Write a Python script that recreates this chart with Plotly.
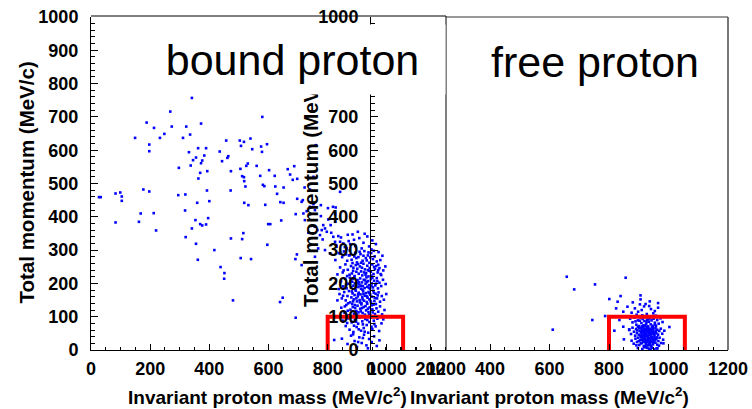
import plotly.graph_objects as go

# ---------------- data ----------------
# bound proton: sparse points (invariant mass MeV/c^2, total momentum MeV/c)
bound_sparse = [
    (341,757),(268,716),(579,700),(188,683),(372,680),(213,667),(273,671),(322,671),(248,649),(335,647),
    (149,637),(233,637),(311,637),(457,629),(503,629),(517,625),(539,635),(197,617),(595,618),(507,613),
    (575,611),(545,603),(197,597),(331,594),(362,606),(389,606),(435,596),(578,595),(383,584),(355,578),
    (464,582),(461,577),(345,570),(376,569),(443,567),(372,561),(530,560),(525,553),(560,553),(337,554),
    (297,547),(505,544),(473,537),(393,537),(369,532),(602,540),(665,543),(687,552),(673,527),(621,523),
    (572,523),(511,522),(517,519),(363,515),(697,514),(682,511),(518,507),(581,496),(586,492),(522,491),
    (623,491),(651,488),(177,482),(197,476),(392,479),(472,479),(83,470),(99,473),(629,469),(295,465),
    (319,467),(27,459),(33,459),(104,461),(697,454),(104,448),(400,447),(359,442),(640,444),(651,442),
    (518,442),(532,435),(589,436),(318,419),(168,410),(212,411),(692,408),(396,396),(83,383),(162,385),
    (353,390),(643,389),(369,378),(376,374),(389,377),(341,365),(599,378),(606,378),(220,359),(515,351),
    (320,339),(473,335),(511,333),(355,319),(596,316),(417,300),(696,287),(506,276),(541,273),(691,273),
    (361,271),(438,249),(451,231),(450,214),(480,149),(648,157),(639,144),(692,97),
    (760,615),(752,520),(722,488),(740,482),(716,450),(729,417),(752,438),(777,435),(723,390),(842,475),
    (827,428),(777,402),(802,392),(712,445),(740,430),(757,420),(718,410),(785,375),(791,365),(780,360),
    (797,355),(774,345),(783,332),(819,340),(836,342),(825,325),(842,325),(830,310),(853,320),(864,305),
    (768,305),(791,300),(808,290),(842,290),(853,285),(875,285),(765,360),(810,375),(825,385),(801,426),
    (818,430),(825,408),(757,370),(971,240),(979,228),(712,255),(757,280),(735,352),(822,30),
]
# bound proton: dense cluster
bound_cluster = [
    (812,352),(845,338),(868,346),(889,331),(902,355),(921,322),(934,341),(951,329),(876,318),(858,309),
    (893,312),(915,305),(940,311),(963,318),(829,315),(884,347),(907,336),(948,302),(871,327),(925,349),
    (855,296),(872,284),(881,271),(893,292),(899,263),(904,279),(911,288),(918,268),(924,297),(929,276),
    (936,284),(941,262),(947,291),(953,273),(959,281),(966,266),(972,294),(884,261),(866,268),(849,279),
    (838,291),(826,270),(897,276),(913,262),(921,283),(932,269),(944,278),(956,298),(978,270),(985,283),
    (908,295),(890,281),(875,299),(862,287),(938,293),
    (842,248),(851,233),(860,257),(868,241),(874,226),(879,252),(886,238),(891,222),(895,255),(900,244),
    (905,229),(909,251),(913,236),(917,224),(921,259),(926,242),(930,231),(934,253),(938,221),(942,246),
    (946,235),(951,257),(955,228),(960,243),(964,252),(969,233),(975,246),(981,225),(988,239),(995,251),
    (882,230),(897,235),(903,258),(916,247),(928,226),(940,238),(948,223),(957,249),(971,256),(866,222),
    (854,239),(833,227),(887,247),(923,233),(936,240),
    (845,206),(853,191),(859,214),(864,185),(870,199),(875,217),(879,188),(883,205),(887,193),(890,219),
    (894,182),(898,201),(901,210),(904,189),(907,197),(910,215),(913,184),(916,203),(919,192),(922,211),
    (925,186),(928,199),(931,218),(934,190),(937,207),(940,195),(943,183),(946,213),(949,200),(953,188),
    (957,208),(961,194),(966,216),(970,185),(975,202),(981,192),(987,211),(996,198),(838,183),(826,201),
    (862,196),(885,214),(896,190),(906,204),(918,181),(927,209),(939,187),(951,217),(963,199),(878,208),
    (892,200),(912,193),(932,204),(948,192),(968,207),
    (840,168),(848,155),(856,174),(861,149),(867,162),(872,177),(876,143),(880,158),(884,170),(888,152),
    (891,165),(895,178),(899,146),(902,161),(905,172),(908,150),(911,167),(914,141),(917,159),(920,176),
    (923,148),(926,163),(929,171),(932,144),(935,157),(938,174),(941,152),(944,166),(947,142),(950,160),
    (954,178),(958,147),(962,169),(967,155),(972,173),(977,145),(983,162),(990,151),(998,168),(833,149),
    (852,163),(869,140),(882,176),(897,155),(909,143),(921,168),(933,161),(945,147),(956,172),(969,164),
    (886,146),(903,168),(918,152),(940,171),(959,156),
    (846,127),(857,112),(863,135),(871,104),(877,121),(883,138),(889,109),(893,126),(897,117),(901,133),
    (906,102),(910,124),(914,137),(918,111),(922,129),(926,106),(930,119),(934,139),(938,114),(942,128),
    (946,103),(951,122),(955,136),(960,108),(965,125),(971,115),(977,131),(984,107),(992,120),(868,118),
    (880,101),(892,135),(904,113),(916,126),(928,132),(940,107),(952,113),(963,138),(885,129),(899,105),
    (912,116),(936,124),(948,134),(858,131),(924,101),
    (852,88),(861,72),(869,95),(874,61),(881,83),(887,54),(892,91),(898,69),(903,79),(908,97),
    (913,58),(917,86),(922,66),(927,93),(932,75),(937,52),(941,84),(946,97),(951,63),(956,88),
    (962,71),(968,94),(974,57),(982,80),(889,73),(905,62),(919,77),(934,90),(948,70),(878,99),
    (896,85),(925,55),(958,78),(866,81),(988,92),
    (848,34),(867,18),(879,43),(891,27),(899,9),(907,38),(915,21),(923,46),(931,14),(940,33),
    (949,24),(957,41),(966,12),(975,29),(886,47),(903,24),(936,5),(919,36),
]
# free proton
free_sparse = [
    (611,61),(658,220),(683,182),(753,197),(856,217),(744,90),(818,58),(1003,69),(835,90),(848,70),
    (868,60),(850,32),(983,20),(960,5),(801,153),(829,145),(839,162),(787,102),(824,125),(848,115),
    (862,130),(880,143),(906,164),(906,152),(923,138),(935,132),(965,141),(965,127),(887,125),(898,115),
    (910,120),(949,110),(912,104),(927,108),(941,123),(954,117),(918,131),(893,106),(876,112),(958,103),
    (937,146),(904,137),
]
free_cluster = [
    (871,94),(879,83),(885,97),(892,76),(897,89),(901,72),(905,98),(909,81),(913,93),(916,74),
    (919,87),(922,99),(925,78),(928,91),(931,71),(934,85),(937,96),(940,77),(943,89),(947,73),
    (950,94),(954,82),(958,71),(962,90),(967,79),(973,95),(980,84),(889,86),(903,88),(921,73),
    (933,93),(945,99),(956,75),(911,71),(926,84),
    (868,62),(874,48),(879,67),(884,55),(888,43),(891,63),(894,51),(897,69),(900,46),(903,58),
    (906,41),(908,66),(910,53),(912,61),(914,44),(916,69),(918,50),(920,57),(922,42),(924,64),
    (926,48),(928,60),(930,54),(932,67),(934,45),(936,58),(938,63),(940,41),(942,52),(944,68),
    (946,47),(948,59),(951,55),(953,43),(956,65),(959,50),(962,61),(965,46),(969,57),(974,64),
    (979,49),(986,58),(895,59),(902,66),(909,47),(917,62),(923,55),(929,43),(935,51),(941,60),
    (947,66),(952,48),(958,57),(913,56),(921,49),(927,69),(933,59),(939,47),(945,53),(907,54),
    (876,28),(883,19),(889,34),(894,24),(898,37),(902,15),(905,29),(908,38),(911,21),(914,33),
    (917,12),(919,26),(921,37),(924,18),(926,31),(928,23),(930,39),(932,14),(934,27),(936,35),
    (938,20),(940,31),(942,11),(944,25),(946,38),(948,17),(951,29),(953,36),(956,22),(959,33),
    (962,16),(966,27),(970,37),(975,21),(982,31),(892,14),(900,27),(907,20),(913,39),(920,30),
    (925,11),(931,34),(937,25),(943,37),(949,23),(955,30),(961,38),(968,13),(915,25),(929,29),
    (939,15),(947,32),(910,31),(935,19),(922,24),
    (897,6),(912,3),(923,8),(935,4),(944,7),(952,2),(963,5),(918,9),(940,1),(929,6),
]
# selection cut box (mass window, momentum limit)
cut_mass = [800, 800, 1055, 1055]
cut_mom = [0, 100, 100, 0]

x_ticks = [0, 200, 400, 600, 800, 1000, 1200]
y_ticks = [0, 100, 200, 300, 400, 500, 600, 700, 800, 900, 1000]
panel_titles = ["bound proton", "free proton"]
x_title = "Invariant proton mass (MeV/c<sup>2</sup>)"
y_title = "Total momentum (MeV/c)"

# ---------------- figure ----------------
W, H = 752, 409
def px(x): return x / W
def py(y): return 1 - y / H

bound = bound_sparse + bound_cluster
free = free_sparse + free_cluster

fig = go.Figure()
mk = dict(symbol="square", size=2.6, color="#0000ff", line=dict(width=0))
fig.add_trace(go.Scatter(x=[p[0] for p in bound], y=[p[1] for p in bound], mode="markers",
                         marker=mk, xaxis="x", yaxis="y", showlegend=False))
fig.add_trace(go.Scatter(x=cut_mass, y=cut_mom, mode="lines", line=dict(color="#ff0000", width=4),
                         xaxis="x", yaxis="y", showlegend=False))
fig.add_trace(go.Scatter(x=[p[0] for p in free], y=[p[1] for p in free], mode="markers",
                         marker=mk, xaxis="x2", yaxis="y2", showlegend=False))
fig.add_trace(go.Scatter(x=cut_mass, y=cut_mom, mode="lines", line=dict(color="#ff0000", width=4),
                         xaxis="x2", yaxis="y2", showlegend=False))

tickfont = dict(family="Liberation Sans, Arial, sans-serif", size=18, color="black", weight="bold")
xax = dict(range=[0, 1200], tickvals=x_ticks, ticks="inside", ticklen=6, tickwidth=1, tickcolor="black",
           minor=dict(dtick=50, tick0=0, ticks="inside", ticklen=3, tickcolor="black"),
           showline=True, linecolor="black", linewidth=1, showgrid=False, zeroline=False,
           tickfont=tickfont, ticklabelstandoff=2, fixedrange=True, automargin=False)
yax = dict(range=[0, 1000], tickvals=y_ticks, ticks="inside", ticklen=7, tickwidth=1, tickcolor="black",
           minor=dict(dtick=20, tick0=0, ticks="inside", ticklen=4, tickcolor="black"),
           showline=True, linecolor="black", linewidth=1, showgrid=False, zeroline=False,
           tickfont=tickfont, ticklabelstandoff=8, fixedrange=True, automargin=False)

ydom = [py(350), py(17)]
fig.update_layout(
    width=W, height=H, margin=dict(l=0, r=0, t=0, b=0, pad=0), autosize=False,
    paper_bgcolor="white", plot_bgcolor="rgba(0,0,0,0)",
    xaxis=dict(domain=[px(91), px(446)], anchor="y", **xax),
    yaxis=dict(domain=ydom, anchor="x", **yax),
    xaxis2=dict(domain=[px(371), px(728)], anchor="y2", **xax),
    yaxis2=dict(domain=ydom, anchor="x2", **yax),
)

# frames
for (x0, y0, x1, y1, c, w) in [(91, 16, 446, 16, "black", 1), (446, 16, 446, 350, "black", 1),
                              (446, 17, 728, 17, "#333333", 1), (728, 17, 728, 350, "#555555", 1.6)]:
    fig.add_shape(type="line", xref="paper", yref="paper", x0=px(x0), y0=py(y0), x1=px(x1), y1=py(y1),
                  line=dict(color=c, width=w), layer="below")

tfont = dict(family="Liberation Sans, Arial, sans-serif", size=20.5, color="black", weight="bold")
xtfont = dict(family="Liberation Sans, Arial, sans-serif", size=19, color="black", weight="bold")
# axis titles
fig.add_annotation(text=y_title, x=px(25.5), y=py(183), xref="paper", yref="paper", textangle=-90,
                   showarrow=False, font=tfont, xanchor="center", yanchor="middle")
fig.add_annotation(text=y_title, x=px(310), y=py(186), xref="paper", yref="paper", textangle=-90,
                   showarrow=False, font=tfont, xanchor="center", yanchor="middle")
fig.add_annotation(text=x_title, x=px(267), y=py(396), xref="paper", yref="paper",
                   showarrow=False, font=xtfont, xanchor="center", yanchor="middle")
fig.add_annotation(text=x_title, x=px(549.5), y=py(396), xref="paper", yref="paper",
                   showarrow=False, font=xtfont, xanchor="center", yanchor="middle")
# panel labels
lfont = dict(family="Liberation Sans, Arial, sans-serif", size=43, color="black")
fig.add_annotation(text=panel_titles[0], x=px(292.5), y=py(59.5), xref="paper", yref="paper",
                   showarrow=False, font=lfont, xanchor="center", yanchor="middle",
                   width=305, height=69, bgcolor="white", borderpad=0)
fig.add_annotation(text=panel_titles[1], x=px(595), y=py(62), xref="paper", yref="paper",
                   showarrow=False, font=lfont, xanchor="center", yanchor="middle")

fig.write_html("out.html")
